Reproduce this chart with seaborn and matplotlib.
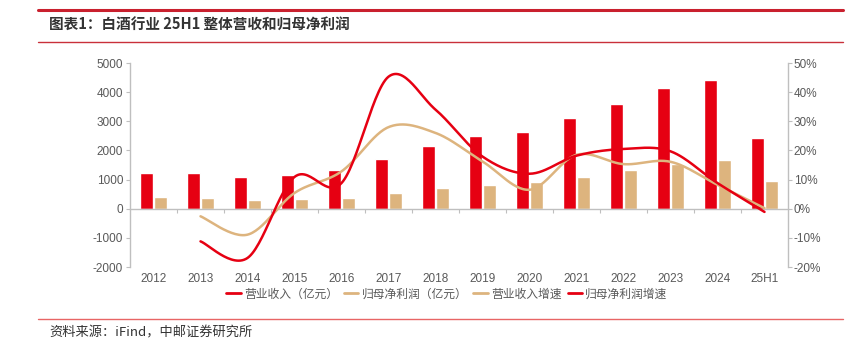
import numpy as np
import pandas as pd
import matplotlib
matplotlib.use("Agg")
import matplotlib.pyplot as plt
import seaborn as sns
from matplotlib.lines import Line2D

categories = ["2012", "2013", "2014", "2015", "2016", "2017", "2018", "2019",
              "2020", "2021", "2022", "2023", "2024", "25H1"]
revenue = [1225, 1212, 1087, 1167, 1315, 1692, 2139, 2482, 2631, 3099, 3592, 4142, 4403, 2426]
net_profit = [410, 367, 309, 320, 367, 538, 697, 824, 926, 1098, 1315, 1544, 1681, 937]
# growth rates (%), starting 2013
revenue_growth = [None, -2.6, -8.9, 5.4, 12.8, 28.0, 26.0, 16.2, 6.5, 18.5, 15.3, 16.1, 8.2, 0.2]
profit_growth = [None, -11.2, -16.9, 10.9, 8.8, 45.3, 34.0, 17.9, 12.0, 18.2, 20.5, 19.7, 8.8, -1.1]

RED = "#E60012"
TAN = "#DDB47E"
GRAY = "#595959"
AXC = "#BFBFBF"

sns.set_theme(style="white")
plt.rcParams["font.family"] = ["Liberation Sans", "Noto Sans CJK SC", "DejaVu Sans"]
plt.rcParams["axes.unicode_minus"] = False

fig = plt.figure(figsize=(8.61, 3.42), dpi=100)
ax = fig.add_axes([130 / 861, 1 - 267 / 342, (788 - 130) / 861, (267 - 63) / 342])

n = len(categories)
x = np.arange(n)

df = pd.DataFrame({
    "cat": categories * 2,
    "val": revenue + net_profit,
    "series": ["营业收入（亿元）"] * n + ["归母净利润（亿元）"] * n,
})
sns.barplot(data=df, x="cat", y="val", hue="series", palette=[RED, TAN],
            ax=ax, width=0.62, gap=0.12, legend=False, saturation=1)

ax.set_xlim(-0.5, n - 0.5)
ax.set_ylim(-2000, 5000)
ax.set_yticks(np.arange(-2000, 5001, 1000))
ax.set_xlabel("")
ax.set_ylabel("")

for s in ["top", "right"]:
    ax.spines[s].set_visible(False)
ax.spines["left"].set_color(AXC)
ax.spines["left"].set_linewidth(1.0)
ax.spines["bottom"].set_position(("data", 0))
ax.spines["bottom"].set_color(AXC)
ax.spines["bottom"].set_linewidth(1.0)
ax.tick_params(axis="y", which="major", left=True, length=3, width=0.8, color=AXC,
               labelsize=8.5, labelcolor=GRAY, pad=2)
ax.set_xticks(x)
ax.set_xticklabels(categories)
ax.set_xticks(np.arange(-0.5, n, 1.0)[1:-1], minor=True)
ax.tick_params(axis="x", which="major", length=0, labelsize=8.5, labelcolor=GRAY, pad=46)
ax.tick_params(axis="x", which="minor", bottom=True, length=3, width=0.8, color=AXC)

ax2 = ax.twinx()
ax2.set_ylim(-20, 50)
ax2.set_yticks(np.arange(-20, 51, 10))
ax2.set_yticklabels([f"{v}%" for v in range(-20, 51, 10)])
for s in ["top", "left", "bottom"]:
    ax2.spines[s].set_visible(False)
ax2.spines["right"].set_color(AXC)
ax2.spines["right"].set_linewidth(1.0)
ax2.tick_params(axis="y", right=True, length=3, width=0.8, color=AXC,
                labelsize=8.5, labelcolor=GRAY, pad=1)
ax2.grid(False)
ax.grid(False)


def smooth(xs, ys, steps=30):
    # Excel-style smoothed line (cubic Bezier through points)
    xs = np.asarray(xs, float)
    ys = np.asarray(ys, float)
    P = np.column_stack([xs, ys])
    out = [P[0]]
    m = len(P)
    for i in range(m - 1):
        p0 = P[i - 1] if i > 0 else P[i]
        p1 = P[i]
        p2 = P[i + 1]
        p3 = P[i + 2] if i + 2 < m else P[i + 1]
        c1 = p1 + (p2 - p0) / 6.0
        c2 = p2 - (p3 - p1) / 6.0
        t = np.linspace(0, 1, steps)[1:, None]
        seg = ((1 - t) ** 3) * p1 + 3 * ((1 - t) ** 2) * t * c1 + 3 * (1 - t) * t ** 2 * c2 + t ** 3 * p2
        out.extend(seg)
    out = np.array(out)
    return out[:, 0], out[:, 1]


def series_xy(vals):
    xs = [i for i, v in enumerate(vals) if v is not None]
    ys = [v for v in vals if v is not None]
    return xs, ys

sx, sy = smooth(*series_xy(revenue_growth))
sns.lineplot(x=sx, y=sy, ax=ax2, color=TAN, linewidth=1.8, sort=False, estimator=None)
sx, sy = smooth(*series_xy(profit_growth))
sns.lineplot(x=sx, y=sy, ax=ax2, color=RED, linewidth=1.8, sort=False, estimator=None)

handles = [
    Line2D([], [], color=RED, linewidth=2),
    Line2D([], [], color=TAN, linewidth=2),
    Line2D([], [], color=TAN, linewidth=2),
    Line2D([], [], color=RED, linewidth=2),
]
labels = ["营业收入（亿元）", "归母净利润（亿元）", "营业收入增速", "归母净利润增速"]
leg = fig.legend(handles, labels, loc="center", bbox_to_anchor=(447 / 861, 1 - 294 / 342),
                 ncol=4, frameon=False, fontsize=8.5, handlelength=1.2,
                 handletextpad=0.3, columnspacing=0.5,
                 prop={"family": ["Noto Sans CJK SC", "DejaVu Sans"], "size": 8.5})
for t in leg.get_texts():
    t.set_color(GRAY)

# header / footer decorations
fig.add_artist(Line2D([38 / 861, 843 / 861], [1 - 9.5 / 342] * 2, color="#C9202E", linewidth=2.2))
fig.add_artist(Line2D([38 / 861, 843 / 861], [1 - 41.5 / 342] * 2, color="#C9303A", linewidth=1.0))
fig.add_artist(Line2D([38 / 861, 843 / 861], [1 - 318.5 / 342] * 2, color="#E86565", linewidth=1.0))

fig.text(49 / 861, 1 - 25 / 342, "图表1：白酒行业 25H1 整体营收和归母净利润", ha="left", va="center",
         fontsize=10.5, fontweight="bold", color="#333333",
         family=["Noto Sans CJK SC", "DejaVu Sans"])
fig.text(49 / 861, 1 - 333 / 342, "资料来源：iFind，中邮证券研究所", ha="left", va="center",
         fontsize=9.5, color="#333333", family=["Noto Sans CJK SC", "DejaVu Sans"])

fig.savefig("out.png", dpi=100)
